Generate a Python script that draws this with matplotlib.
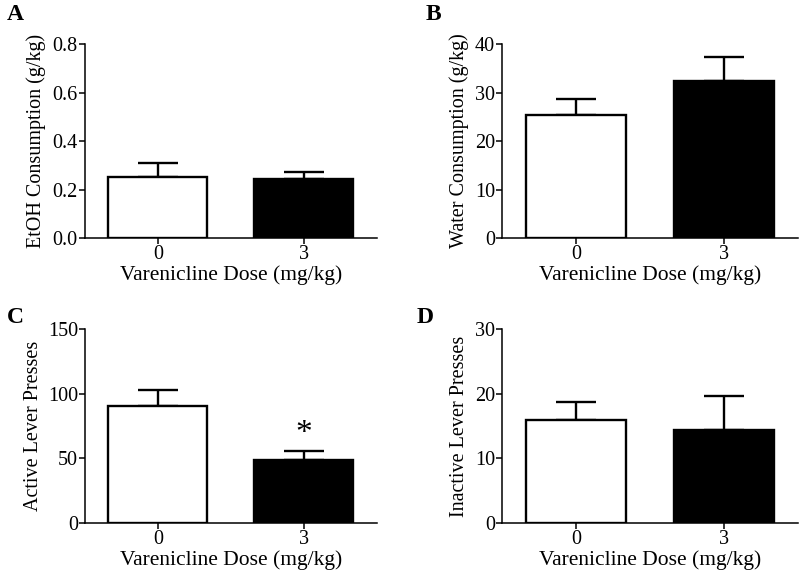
import matplotlib
matplotlib.use("Agg")
import matplotlib.pyplot as plt

doses = ["0", "3"]
xlabel = "Varenicline Dose (mg/kg)"
bar_colors = ["white", "black"]

etoh_mean = [0.253, 0.243]
etoh_sem = [0.057, 0.030]
water_mean = [25.4, 32.4]
water_sem = [3.2, 4.9]
active_mean = [90.5, 48.6]
active_sem = [12.5, 7.3]
inactive_mean = [15.9, 14.4]
inactive_sem = [2.8, 5.3]

panels = [
    ("A", "EtOH Consumption (g/kg)", etoh_mean, etoh_sem, 0.8, [0.0, 0.2, 0.4, 0.6, 0.8], "{:.1f}"),
    ("B", "Water Consumption (g/kg)", water_mean, water_sem, 40, [0, 10, 20, 30, 40], "{:.0f}"),
    ("C", "Active Lever Presses", active_mean, active_sem, 150, [0, 50, 100, 150], "{:.0f}"),
    ("D", "Inactive Lever Presses", inactive_mean, inactive_sem, 30, [0, 10, 20, 30], "{:.0f}"),
]
# axes boxes in figure fraction: left, bottom, width, height
boxes = [
    (0.106, 0.583, 0.365, 0.340),
    (0.6275, 0.583, 0.370, 0.340),
    (0.106, 0.0846, 0.365, 0.3387),
    (0.6275, 0.0846, 0.370, 0.3387),
]
letter_pos = [(0.008, 0.993), (0.532, 0.993), (0.008, 0.463), (0.521, 0.463)]
ylabel_x = [-0.132, -0.113, -0.142, -0.113]

plt.rcParams["font.family"] = ["Liberation Serif", "DejaVu Serif"]
fig = plt.figure(figsize=(8, 5.71), dpi=100)

for (letter, ylab, mean, sem, ymax, ticks, fmt), box, lp, ylx in zip(panels, boxes, letter_pos, ylabel_x):
    ax = fig.add_axes(box)
    x = range(len(doses))
    ax.bar(x, mean, width=0.68, color=bar_colors, edgecolor="black", linewidth=1.7, zorder=3)
    ax.errorbar(x, mean, yerr=[[0] * len(sem), sem], fmt="none", ecolor="black",
                elinewidth=1.7, capsize=14.5, capthick=1.7, zorder=2)
    ax.set_xlim(-0.5, 1.5)
    ax.set_ylim(0, ymax)
    ax.set_yticks(ticks)
    ax.set_yticklabels([fmt.format(t) for t in ticks])
    ax.set_xticks(list(x))
    ax.set_xticklabels(doses)
    ax.spines["top"].set_visible(False)
    ax.spines["right"].set_visible(False)
    for s in ("left", "bottom"):
        ax.spines[s].set_linewidth(1.1)
    ax.tick_params(direction="out", length=4, width=1.1, labelsize=14.5, pad=1)
    ax.set_xlabel(xlabel, fontsize=15.5, labelpad=1)
    ax.set_ylabel(ylab, fontsize=14.5)
    ax.yaxis.set_label_coords(ylx, 0.5)
    fig.text(lp[0], lp[1], letter, fontsize=17, fontweight="bold", va="top", ha="left")
    if letter == "C":
        ax.text(1, mean[1] + sem[1] + 1, "*", ha="center", va="bottom", fontsize=24)

fig.savefig("out.png", dpi=100, facecolor="white")
